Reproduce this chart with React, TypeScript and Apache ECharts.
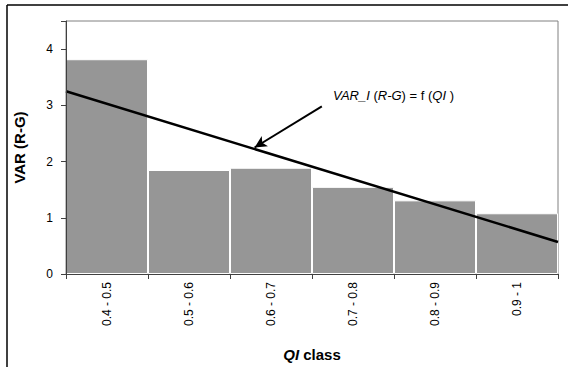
import React, { useEffect, useRef } from "react";
import * as echarts from "echarts";

const categories = ["0.4 - 0.5", "0.5 - 0.6", "0.6 - 0.7", "0.7 - 0.8", "0.8 - 0.9", "0.9 - 1"];
const barValues = [3.82, 1.85, 1.89, 1.55, 1.31, 1.08];
// trend line endpoints at the left and right edges of the class range (class-index units 0..6)
const trendPoints: [number, number][] = [
  [0, 3.25],
  [6, 0.57],
];
// arrow from annotation to the trend line (class-index units, value units)
const arrowFrom: [number, number] = [3.12, 2.98];
const arrowTo: [number, number] = [2.3, 2.25];

const FONT = "Liberation Sans, Arial, sans-serif";

export default function App() {
  const ref = useRef<HTMLDivElement>(null);
  useEffect(() => {
    if (!ref.current) return;
    const chart = echarts.init(ref.current, null, { renderer: "svg" });
    chart.setOption({
      animation: false,
      backgroundColor: "#ffffff",
      textStyle: { fontFamily: FONT },
      grid: {
        left: 66,
        top: 21,
        right: 10,
        bottom: 88,
        show: true,
        borderColor: "#808080",
        borderWidth: 1,
        backgroundColor: "transparent",
      },
      xAxis: [
        {
          type: "category",
          data: categories,
          boundaryGap: true,
          z: 5,
          axisLine: { lineStyle: { color: "#404040", width: 1 } },
          axisTick: { show: true, length: 5, lineStyle: { color: "#404040" } },
          axisLabel: {
            rotate: 90,
            fontSize: 12,
            color: "#000",
            margin: 8,
            fontFamily: FONT,
          },
          name: "{b|QI}{c| class}",
          nameLocation: "middle",
          nameGap: 73,
          nameTextStyle: {
            rich: {
              b: { fontSize: 15, fontWeight: "bold", fontStyle: "italic", color: "#000", fontFamily: FONT },
              c: { fontSize: 15, fontWeight: "bold", color: "#000", fontFamily: FONT },
            },
          },
        },
        {
          type: "value",
          min: 0,
          max: 6,
          show: false,
          position: "bottom",
        },
      ],
      yAxis: {
        type: "value",
        min: 0,
        max: 4.5,
        interval: 1,
        z: 5,
        splitLine: { show: false },
        axisLine: { show: true, lineStyle: { color: "#404040", width: 1 } },
        axisTick: { show: true, length: 5, lineStyle: { color: "#404040" } },
        axisLabel: {
          fontSize: 12,
          color: "#000",
          margin: 13,
          fontFamily: FONT,
          formatter: (v: number) => (Number.isInteger(v) ? String(v) : ""),
        },
        name: "VAR (R-G)",
        nameLocation: "middle",
        nameGap: 39,
        nameRotate: 90,
        nameTextStyle: {
          fontSize: 15,
          fontWeight: "bold",
          color: "#000",
          fontFamily: FONT,
        },
      },
      series: [
        {
          type: "bar",
          data: barValues,
          xAxisIndex: 0,
          barCategoryGap: "0%",
          itemStyle: { color: "#969696", borderColor: "#ffffff", borderWidth: 1 },
          z: 2,
        },
        {
          type: "line",
          xAxisIndex: 1,
          data: trendPoints,
          symbol: "none",
          lineStyle: { color: "#000", width: 2.5 },
          z: 3,
          markLine: {
            silent: true,
            symbol: ["none", "arrow"],
            symbolSize: [9, 12],
            label: { show: false },
            lineStyle: { color: "#000", width: 2, type: "solid" },
            data: [[{ coord: arrowFrom }, { coord: arrowTo }]],
          },
        },
      ],
      graphic: [
        {
          type: "line",
          shape: { x1: 7, y1: 5, x2: 568, y2: 5 },
          style: { stroke: "#000", lineWidth: 1.5 },
        },
        {
          type: "line",
          shape: { x1: 7, y1: 5, x2: 7, y2: 367 },
          style: { stroke: "#000", lineWidth: 1.5 },
        },
        {
          type: "text",
          left: 333,
          top: 89,
          style: {
            text: "{i|VAR_I}{n| (}{i|R-G}{n|) = f (}{i|QI}{n| )}",
            rich: {
              i: { fontSize: 13, fontStyle: "italic", fill: "#000", fontFamily: FONT },
              n: { fontSize: 13, fill: "#000", fontFamily: FONT },
            },
          },
        },
      ],
    });
    return () => chart.dispose();
  }, []);
  return (
    <div
      ref={ref}
      style={{ position: "fixed", left: 0, top: 0, width: 568, height: 367, background: "#fff" }}
    />
  );
}
